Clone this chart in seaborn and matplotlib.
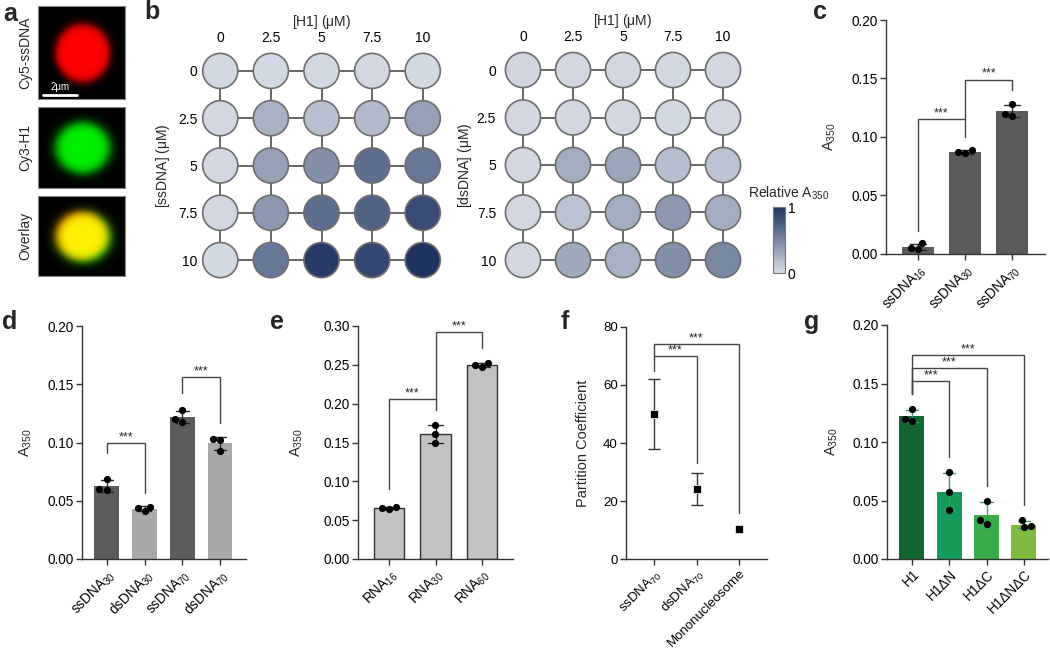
import numpy as np
import pandas as pd
import seaborn as sns
import matplotlib.pyplot as plt
from matplotlib.colors import LinearSegmentedColormap, Normalize
from matplotlib.cm import ScalarMappable
from matplotlib.ticker import FormatStrFormatter

sns.set_theme(style='ticks')
plt.rcParams['font.family'] = ['Liberation Sans', 'DejaVu Sans']
plt.rcParams['mathtext.default'] = 'regular'
plt.rcParams['axes.edgecolor'] = '#333333'
plt.rcParams['axes.linewidth'] = 1.0
plt.rcParams['xtick.color'] = '#333333'
plt.rcParams['ytick.color'] = '#333333'
plt.rcParams['xtick.labelcolor'] = 'black'
plt.rcParams['ytick.labelcolor'] = 'black'

# ---------------- data ----------------
# panel b: relative A350 turbidity grids (rows = DNA conc, cols = H1 conc)
h1_conc = ['0', '2.5', '5', '7.5', '10']
dna_conc = ['0', '2.5', '5', '7.5', '10']
ss_grid = [[0.02, 0.02, 0.02, 0.03, 0.02],
           [0.03, 0.25, 0.17, 0.20, 0.35],
           [0.03, 0.35, 0.45, 0.65, 0.60],
           [0.03, 0.40, 0.65, 0.72, 0.85],
           [0.02, 0.60, 0.95, 0.88, 1.00]]
ds_grid = [[0.04, 0.03, 0.03, 0.02, 0.03],
           [0.03, 0.03, 0.03, 0.02, 0.03],
           [0.03, 0.28, 0.32, 0.18, 0.15],
           [0.03, 0.15, 0.28, 0.40, 0.28],
           [0.03, 0.30, 0.25, 0.45, 0.50]]

# panel c
c_labels = ['ssDNA$_{16}$', 'ssDNA$_{30}$', 'ssDNA$_{70}$']
c_reps = [[0.004, 0.005, 0.009], [0.086, 0.089, 0.087], [0.128, 0.120, 0.118]]
c_colors = ['#5a5a5a', '#5a5a5a', '#5a5a5a']
c_brackets = [(0, 1, 0.115, 0.020, 0.100), (1, 2, 0.149, 0.115, 0.140)]

# panel d
d_labels = ['ssDNA$_{30}$', 'dsDNA$_{30}$', 'ssDNA$_{70}$', 'dsDNA$_{70}$']
d_reps = [[0.069, 0.059, 0.060], [0.045, 0.041, 0.044],
          [0.128, 0.120, 0.118], [0.103, 0.093, 0.102]]
d_colors = ['#5c5c5c', '#a9a9a9', '#5c5c5c', '#a9a9a9']
d_brackets = [(0, 1, 0.0996, 0.091, 0.057), (2, 3, 0.156, 0.1425, 0.117)]

# panel e
e_labels = ['RNA$_{16}$', 'RNA$_{30}$', 'RNA$_{60}$']
e_reps = [[0.065, 0.067, 0.066], [0.172, 0.161, 0.150], [0.252, 0.247, 0.250]]
e_colors = ['#c2c2c2', '#c2c2c2', '#c2c2c2']
e_brackets = [(0, 1, 0.206, 0.090, 0.192), (1, 2, 0.292, 0.206, 0.272)]

# panel f
f_labels = ['ssDNA$_{70}$', 'dsDNA$_{70}$', 'Mononucleosome']
f_means = [50, 24, 10.5]
f_errs = [12, 5.5, 0]
f_brackets = [(0, 1, 70, 65, 33), (0, 2, 74, 70, 16)]

# panel g
g_labels = ['H1', 'H1ΔN', 'H1ΔC', 'H1ΔNΔC']
g_reps = [[0.128, 0.120, 0.118], [0.074, 0.057, 0.042],
          [0.050, 0.030, 0.033], [0.033, 0.027, 0.028]]
g_colors = ['#116633', '#169a5c', '#3aab4b', '#80b944']
g_brackets = [(0, 1, 0.152, 0.141, 0.087), (0, 2, 0.163, 0.141, 0.062),
              (0, 3, 0.174, 0.141, 0.046)]

# ---------------- layout helpers ----------------
W, H = 1050, 651
fig = plt.figure(figsize=(W / 100, H / 100), dpi=100)


def rect(l, t, r, b):
    return [l / W, 1 - b / H, (r - l) / W, (b - t) / H]


def letter(x, y, s):
    fig.text(x / W, 1 - y / H, s, fontsize=18, fontweight='bold',
             ha='center', va='center')


def bracket(ax, b, line_c='#444444'):
    x1, x2, top, low1, low2 = b
    ax.plot([x1, x1, x2, x2], [low1, top, top, low2], color=line_c, lw=1,
            solid_joinstyle='miter', clip_on=False)
    ax.text((x1 + x2) / 2, top, '***', ha='center', va='bottom', fontsize=9)


# ---------------- panel a: micrographs ----------------
def disk(n, cx, cy, r, w):
    yy, xx = np.mgrid[0:n, 0:n] / n
    d = np.hypot(xx - cx, yy - cy)
    return 1 / (1 + np.exp((d - r) / w))


a_boxes = [(38, 6, 125, 99), (38, 107, 125, 188), (38, 196, 125, 276)]
a_names = ['Cy5-ssDNA', 'Cy3-H1', 'Overlay']
red = disk(120, 0.51, 0.50, 0.31, 0.025)
green = disk(120, 0.51, 0.50, 0.31, 0.035) * 0.95
imgs = [np.dstack([red, np.zeros_like(red), np.zeros_like(red)]),
        np.dstack([np.zeros_like(green), green, np.zeros_like(green)]),
        np.dstack([disk(120, 0.50, 0.49, 0.30, 0.03),
                   disk(120, 0.52, 0.51, 0.31, 0.035) * 0.95,
                   np.zeros_like(red)])]
for box, name, img in zip(a_boxes, a_names, imgs):
    ax = fig.add_axes(rect(*box))
    ax.imshow(np.clip(img, 0, 1), extent=[0, 1, 0, 1], aspect='auto')
    ax.set_xticks([])
    ax.set_yticks([])
    for s in ax.spines.values():
        s.set_color('#888888')
        s.set_linewidth(0.8)
    fig.text(25 / W, 1 - ((box[1] + box[3]) / 2) / H, name, rotation=90,
             ha='center', va='center', fontsize=10)
    if name == 'Cy5-ssDNA':
        ax.plot([0.06, 0.45], [0.04, 0.04], color='white', lw=2)
        ax.text(0.26, 0.08, '2μm', color='white', fontsize=7,
                ha='center', va='bottom')
letter(10, 14, 'a')

# ---------------- panel b: turbidity grids ----------------
cmap = LinearSegmentedColormap.from_list('a350', ['#d7dce5', '#1e3360'])


def grid_panel(box, grid, ylab, lab_x, ypad):
    ax = fig.add_axes(rect(*box))
    rows = [(j, i, grid[i][j]) for i in range(len(dna_conc))
            for j in range(len(h1_conc))]
    df = pd.DataFrame(rows, columns=['h1', 'dna', 'val'])
    for i in range(len(dna_conc)):
        ax.plot([0, len(h1_conc) - 1], [i, i], color='#5a5a5a', lw=1.3, zorder=1)
    for j in range(len(h1_conc)):
        ax.plot([j, j], [0, len(dna_conc) - 1], color='#5a5a5a', lw=1.3, zorder=1)
    sns.scatterplot(data=df, x='h1', y='dna', hue='val', palette=cmap,
                    hue_norm=(0, 1), s=640, edgecolor='#6e6e6e', linewidth=1.2,
                    legend=False, ax=ax, zorder=3, clip_on=False)
    ax.set_xlim(-0.4, 4.4)
    ax.set_ylim(4.4, -0.4)
    ax.set_xticks(range(len(h1_conc)), h1_conc)
    ax.set_yticks(range(len(dna_conc)), dna_conc)
    ax.xaxis.tick_top()
    ax.tick_params(axis='x', length=0, pad=5, labelsize=10)
    ax.tick_params(axis='y', length=0, pad=ypad, labelsize=10)
    for s in ax.spines.values():
        s.set_visible(False)
    ax.set_xlabel('[H1] ($\\mu$M)', fontsize=10)
    ax.xaxis.set_label_position('top')
    ax.xaxis.set_label_coords(0.5, 1.115)
    ax.set_ylabel(ylab, fontsize=10)
    ax.yaxis.set_label_coords(lab_x, 0.5)
    return ax


grid_panel((200, 52, 443, 279), ss_grid, '[ssDNA] ($\\mu$M)', -0.117, 2)
grid_panel((503, 51, 743, 279), ds_grid, '[dsDNA] ($\\mu$M)', -0.119, 5)
letter(152, 12, 'b')

cax = fig.add_axes(rect(773, 207, 785, 273))
cb = fig.colorbar(ScalarMappable(Normalize(0, 1), cmap), cax=cax)
cb.set_ticks([0, 1], labels=['0', '1'])
cax.tick_params(length=0, pad=2, labelsize=10)
cb.outline.set_edgecolor('#777777')
cb.outline.set_linewidth(0.8)
fig.text(748 / W, 1 - 193 / H, 'Relative A$_{350}$', fontsize=10,
         ha='left', va='center')


# ---------------- bar panels ----------------
def bar_panel(box, labels, reps, colors, ymax, step, xlim, width, lab_x,
              brackets, edge=None, errc='#2a2a2a'):
    ax = fig.add_axes(rect(*box))
    df = pd.DataFrame({'grp': np.repeat(labels, len(reps[0])),
                       'val': np.concatenate(reps)})
    sns.barplot(data=df, x='grp', y='val', hue='grp', palette=colors,
                errorbar='sd', capsize=0.33, width=width, saturation=1,
                err_kws={'color': errc, 'linewidth': 1.0},
                edgecolor=edge if edge else 'none',
                linewidth=1.0 if edge else 0, legend=False, ax=ax)
    sns.swarmplot(data=df, x='grp', y='val', color='black', size=5.2, ax=ax,
                  zorder=4)
    for b in brackets:
        bracket(ax, b)
    ax.set_xlim(*xlim)
    ax.set_ylim(0, ymax)
    ax.set_yticks(np.arange(0, ymax + step / 2, step))
    ax.yaxis.set_major_formatter(FormatStrFormatter('%.2f'))
    ax.set_xticks(range(len(labels)), labels)
    plt.setp(ax.get_xticklabels(), rotation=45, ha='right',
             rotation_mode='anchor')
    ax.tick_params(length=4, width=1, labelsize=9.8, pad=2)
    ax.set_xlabel('')
    ax.set_ylabel('A$_{350}$', fontsize=10.5)
    ax.yaxis.set_label_coords(lab_x, 0.5)
    sns.despine(ax=ax)
    return ax


bar_panel((886, 20, 1045, 254), c_labels, c_reps, c_colors, 0.20, 0.05,
          (-0.68, 2.70), 0.68, -0.30, c_brackets)
letter(820, 12, 'c')

bar_panel((82, 326, 246, 559), d_labels, d_reps, d_colors, 0.20, 0.05,
          (-0.66, 3.69), 0.66, -0.29, d_brackets)
letter(10, 322, 'd')

bar_panel((358, 326, 513, 559), e_labels, e_reps, e_colors, 0.30, 0.05,
          (-0.67, 2.67), 0.65, -0.345, e_brackets, edge='#333333')
letter(277, 322, 'e')

bar_panel((887, 325, 1048, 559), g_labels, g_reps, g_colors, 0.20, 0.05,
          (-0.67, 3.65), 0.67, -0.295, g_brackets, errc='#3f9f62')
letter(812, 322, 'g')

# ---------------- panel f: partition coefficient ----------------
ax = fig.add_axes(rect(626, 327, 767, 559))
fdf = pd.DataFrame({'grp': f_labels, 'val': f_means})
has_err = np.array(f_errs) > 0
ax.errorbar(np.arange(len(f_labels))[has_err], np.array(f_means)[has_err],
            yerr=np.array(f_errs)[has_err], fmt='none',
            ecolor='#333333', elinewidth=1, capsize=4, capthick=1)
sns.scatterplot(data=fdf, x='grp', y='val', marker='s', color='black', s=40,
                ax=ax, zorder=4)
for b in f_brackets:
    bracket(ax, b)
ax.set_xlim(-0.66, 2.66)
ax.set_ylim(0, 80)
ax.set_yticks([0, 20, 40, 60, 80])
ax.set_xticks(range(len(f_labels)), f_labels)
plt.setp(ax.get_xticklabels(), rotation=45, ha='right', rotation_mode='anchor')
ax.tick_params(length=4, width=1, labelsize=9.5, pad=2)
ax.set_xlabel('')
ax.set_ylabel('Partition Coefficient', fontsize=10.5)
ax.yaxis.set_label_coords(-0.255, 0.5)
sns.despine(ax=ax)
letter(565, 322, 'f')

fig.savefig('out.png', dpi=100)
